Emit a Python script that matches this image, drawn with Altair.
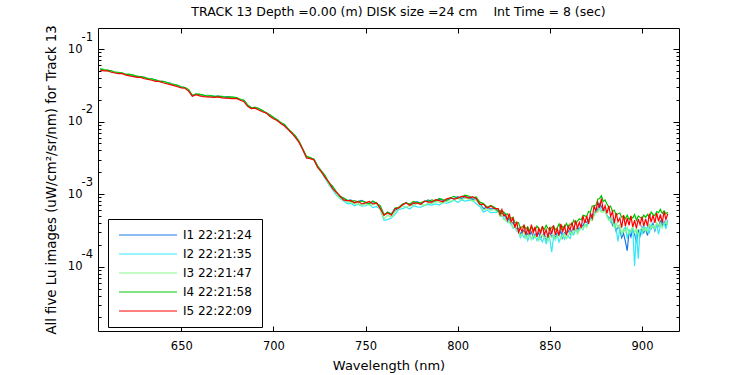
import altair as alt
import numpy as np
import pandas as pd

# Wavelength grid (nm): 2 nm sampling up to 820 nm, 1 nm sampling in the noisy tail
wavelength = np.concatenate([np.arange(606, 822, 2), np.arange(822, 915, 1)])

# Common spectrum shape, log10 of radiance
base_head = [
    -1.28, -1.29, -1.30, -1.31, -1.32, -1.33, -1.34, -1.35, -1.36, -1.37,
    -1.38, -1.39, -1.40, -1.41, -1.42, -1.435, -1.445, -1.455, -1.468, -1.48,
    -1.495, -1.51, -1.525, -1.54, -1.57, -1.65, -1.62, -1.635, -1.645, -1.648,
    -1.652, -1.655, -1.66, -1.663, -1.666, -1.67, -1.674, -1.68, -1.695, -1.715,
    -1.78, -1.82, -1.805, -1.83, -1.855, -1.88, -1.915, -1.95, -1.985, -2.015,
    -2.05, -2.10, -2.16, -2.21, -2.28, -2.39, -2.49, -2.50, -2.53, -2.62,
    -2.69, -2.76, -2.84, -2.91, -2.97, -3.03, -3.07, -3.09, -3.10, -3.11,
    -3.11, -3.115, -3.12, -3.12, -3.125, -3.13, -3.18, -3.29, -3.27, -3.28,
    -3.22, -3.18, -3.15, -3.14, -3.135, -3.13, -3.125, -3.12, -3.115, -3.11,
    -3.10, -3.095, -3.09, -3.085, -3.075, -3.07, -3.06, -3.055, -3.05, -3.045,
    -3.045, -3.055, -3.07, -3.12, -3.17, -3.18, -3.185, -3.20,
]
base_tail = [
    -3.23, -3.245, -3.26, -3.275, -3.29, -3.31, -3.33, -3.35, -3.37, -3.40,
    -3.43, -3.455, -3.48, -3.49, -3.50, -3.50, -3.50, -3.505, -3.51, -3.51,
    -3.51, -3.51, -3.51, -3.51, -3.51, -3.51, -3.51, -3.51, -3.51, -3.51,
    -3.51, -3.51, -3.505, -3.50, -3.50, -3.495, -3.49, -3.485, -3.48, -3.47,
    -3.46, -3.45, -3.44, -3.43, -3.42, -3.405, -3.39, -3.37, -3.35, -3.33,
    -3.31, -3.275, -3.24, -3.205, -3.17, -3.15, -3.15, -3.17, -3.19, -3.215,
    -3.24, -3.265, -3.29, -3.31, -3.33, -3.35, -3.37, -3.38, -3.39, -3.39,
    -3.39, -3.39, -3.39, -3.39, -3.39, -3.39, -3.39, -3.39, -3.39, -3.39,
    -3.38, -3.37, -3.36, -3.355, -3.35, -3.345, -3.34, -3.335, -3.33, -3.325,
    -3.32, -3.32, -3.32,
]

# Per-image deviations from the common shape (hundredths of a decade)
dev_i1 = [
    0, 1, 0, 1, 0, 0, 1, 0, 1, 0,
    1, 0, 1, 0, 1, 0, 0, 1, 0, 1,
    0, 1, 0, 1, 0, 1, 0, 1, 0, 1,
    1, 0, 1, 0, 1, 1, 0, 1, 0, 1,
    0, 1, 0, 1, 0, 0, 1, 0, 1, 0,
    1, 0, 0, 1, 0, 1, 0, 0, 1, 0,
    0, 1, -1, 2, 0, -1, 1, 0, 2, -1,
    1, 3, 0, -1, 2, 1, -2, 0, 2, 1,
    0, -2, 1, 2, -1, 0, 2, -1, 1, 3,
    -1, 1, 2, 0, -2, 1, 0, 2, -1, 1,
    0, -2, 1, -1, -3, 0, -2, 1,
    -2, 1, -4, 0, -3, -5, -1, -6, -2, -4,
    -5, -2, -7, -3, 0, -8, -4, -6, -1, -9,
    -4, -7, -2, -10, -5, -3, -12, -6, -2, -8,
    -5, -9, -3, -7, -1, -11, -4, -6, -2, -8,
    -4, -1, -6, -3, -7, -2, -5, 0, -4, -2,
    -3, 0, -5, -1, -4, 2, -2, -6, -3, -8,
    -10, -5, -14, -7, -18, -9, -12, -22, -15, -26,
    -39, -12, -20, -8, -16, -28, -10, -18, -6, -14,
    -9, -20, -7, -12, -5, -16, -8, -11, -4, -10,
    -6, -12, -5,
]
dev_i2 = [
    0, 0, 1, 0, 0, 0, 1, 0, 0, 0,
    0, 1, 0, 0, 0, 1, 0, 0, 0, 1,
    0, 0, 0, 1, 0, 0, 0, 0, 1, 0,
    0, 1, 0, 0, 0, 0, 1, 0, 0, 0,
    1, 0, 0, 0, 0, 1, 0, 0, 0, 0,
    0, 0, 0, -1, 0, 0, -1, 0, 0, -1,
    -1, -2, -3, -2, -4, -3, -2, -4, -3, -5,
    -3, -5, -4, -2, -6, -4, -3, -7, -8, -5,
    -6, -3, -5, -4, -7, -3, -5, -6, -4, -3,
    -5, -4, -6, -3, -5, -4, -2, -6, -3, -5,
    -4, -3, -6, -5, -8, -4, -7, -5,
    -2, -5, -1, -7, -4, -8, -3, -6, -10, -5,
    -8, -4, -12, -6, -10, -5, -14, -7, -9, -11,
    -6, -13, -8, -10, -15, -7, -18, -5, -11, -29,
    -8, -12, -6, -16, -9, -5, -13, -7, -10, -14,
    -6, -11, -4, -9, -7, -3, -10, -5, -8, -4,
    -2, -7, -4, -1, -6, -3, -8, -5, -2, -9,
    -7, -12, -5, -10, -16, -30, -8, -18, -11, -6,
    -22, -10, -14, -7, -60, -12, -50, -9, -16, -5,
    -12, -8, -18, -6, -11, -14, -7, -22, -10, -4,
    -8, -16, -3,
]
dev_i3 = [
    0, 1, 0, 0, 1, 0, 1, 0, 0, 1,
    1, 0, 0, 1, 0, 1, 0, 0, 1, 0,
    0, 1, 0, 0, 1, 0, 1, 0, 0, 1,
    1, 0, 0, 1, 0, 0, 1, 0, 1, 0,
    0, 1, 0, 0, 1, 0, 0, 1, 0, 1,
    0, 0, 1, 0, 1, 0, 0, 1, 0, 0,
    -1, 0, -2, 1, -1, -3, 0, -2, -1, -3,
    -2, -4, -1, -3, -2, 0, -3, -5, -2, -4,
    -2, -3, -1, -4, -2, -3, 0, -2, -4, -1,
    -3, -1, -2, -4, -1, -3, -2, 0, -3, -1,
    -2, -4, -1, -3, -5, -2, -4, -1,
    -3, -6, -2, -5, -8, -4, -7, -3, -9, -5,
    -7, -4, -10, -6, -3, -11, -8, -5, -12, -6,
    -9, -4, -13, -7, -5, -10, -8, -14, -6, -9,
    -5, -11, -7, -4, -12, -8, -6, -13, -9, -5,
    -10, -7, -4, -12, -8, -6, -9, -5, -11, -7,
    -4, -9, -6, -3, -8, -5, -10, -7, -4, -9,
    -12, -6, -10, -15, -7, -11, -5, -18, -9, -13,
    -7, -16, -10, -6, -14, -8, -18, -11, -7, -12,
    -9, -15, -6, -11, -8, -13, -5, -10, -7, -14,
    -9, -6, -11,
]
dev_i4 = [
    1, 0, 1, 1, 0, 1, 1, 0, 1, 1,
    0, 1, 1, 0, 1, 1, 0, 1, 1, 0,
    1, 1, 0, 1, 1, 1, 0, 1, 1, 0,
    1, 0, 1, 1, 0, 1, 1, 1, 0, 1,
    1, 1, 0, 1, 1, 0, 1, 1, 1, 0,
    1, 0, 1, 1, 0, 1, 1, 0, 1, 1,
    1, 2, 0, 2, 1, 0, 2, 1, 0, 2,
    0, 2, 1, -1, 3, 0, 2, 1, 2, 0,
    3, 0, 1, 2, 0, 3, 1, 0, 2, 1,
    2, 0, 3, 1, -1, 2, 3, 0, 1, 3,
    2, 0, 3, 1, 4, 0, 3, 2,
    0, 2, -1, 3, 1, 4, 0, 2, 5, 1,
    3, 6, 1, 4, 7, 2, 5, 0, 6, 3,
    1, 7, 3, 0, 6, 2, 8, 4, 1, 5,
    7, 2, 4, 9, 1, 5, 3, 8, 2, 6,
    4, 9, 3, 6, 8, 5, 10, 7, 4, 9,
    6, 11, 8, 5, 10, 9, 13, 7, 11, 8,
    6, 10, 5, 9, 4, 8, 11, 6, 9, 5,
    10, 4, 8, 6, 11, 3, 9, 7, 5, 10,
    6, 9, 4, 11, 7, 5, 10, 8, 12, 6,
    9, 5, 7,
]
dev_i5 = [
    -1, -1, 0, -1, -1, -1, 0, -1, -1, -1,
    -1, 0, -1, -1, -1, -1, 0, -1, -1, -1,
    -1, -1, -1, 0, -1, 0, -1, -1, -1, -1,
    -1, -1, 0, -1, -1, -1, -1, 0, -1, -1,
    -1, 0, -1, -1, -1, 0, -1, -1, 0, -1,
    -1, -1, 0, -1, -1, 0, -1, -1, 0, -1,
    0, -1, 1, -1, 0, 1, -1, 0, 1, -1,
    1, -2, 0, 2, -1, 1, -2, 0, 1, -1,
    2, -1, 0, 2, -2, 1, 0, -2, 2, 0,
    -1, 2, 0, -2, 1, 2, -1, 0, 2, 1,
    -1, 2, 1, -2, 3, -1, 2, 0,
    3, -4, 5, -2, 1, -5, 6, -3, 4, -6,
    5, -7, 2, -3, 8, -6, 3, -5, 9, -2,
    6, -8, 4, -3, 7, -5, 2, -9, 6, -4,
    8, -5, 3, -7, 9, -2, 5, -8, 4, -3,
    7, -5, 8, -4, 3, -6, 9, -3, 5, -8,
    4, -6, 8, -3, 6, -4, 9, -6, 3, -5,
    8, -4, 5, -9, 7, -3, 4, -8, 10, -5,
    6, -4, 9, -6, 3, -8, 5, -3, 8, -5,
    4, -7, 9, -3, 6, -5, 8, -4, 5, -7,
    8, -3, 5,
]

series_names = ["I1 22:21:24", "I2 22:21:35", "I3 22:21:47", "I4 22:21:58", "I5 22:22:09"]
series_colors = ["#1a78e0", "#30e8fa", "#88f788", "#00c400", "#ff0000"]
devs = [dev_i1, dev_i2, dev_i3, dev_i4, dev_i5]

x_ticks = [650, 700, 750, 800, 850, 900]
y_major = [1e-4, 1e-3, 1e-2, 1e-1]
y_all_ticks = [m * 10.0 ** e for e in range(-5, 0) for m in range(1, 10)]
y_all_ticks = [v for v in y_all_ticks if 1.3e-5 <= v <= 0.195]

base_arr = np.array(base_head + base_tail)
rows = []
for name, dev in zip(series_names, devs):
    n = min(len(base_arr), len(dev), len(wavelength))
    vals = 10.0 ** (base_arr[:n] + np.array(dev[:n]) / 100.0)
    for w, v in zip(wavelength[:n], vals):
        rows.append({"wl": float(w), "val": float(v), "series": name})
df = pd.DataFrame(rows)

W, H = 581, 303
FONT = "DejaVu Sans"

xs = alt.Scale(domain=[604.8, 920.1], nice=False, zero=False)
ys = alt.Scale(type="log", domain=[1.3e-5, 0.195], nice=False)

is_major = "abs(log(datum.value)/LN10 - round(log(datum.value)/LN10)) < 0.01"

lines = alt.Chart(df).mark_line(strokeWidth=1.2, clip=True).encode(
    x=alt.X("wl:Q", scale=xs, axis=alt.Axis(
        orient="bottom", values=x_ticks, tickSize=0, labelPadding=9, domain=False,
        grid=False, title="Wavelength (nm)", titlePadding=8, titleFontSize=13,
        labelFlush=False)),
    y=alt.Y("val:Q", scale=ys, axis=alt.Axis(
        orient="left", values=y_major, labelExpr="'10'", tickSize=0, labelPadding=16,
        domain=False, grid=False, labelBaseline="middle",
        title="All five Lu images (uW/cm\u00b2/sr/nm) for Track 13",
        titleX=-47, titleY=H / 2, titleAngle=-90, titleAlign="center",
        titleBaseline="middle", titleFontSize=13.3)),
    color=alt.Color("series:N", scale=alt.Scale(domain=series_names, range=series_colors),
                    legend=alt.Legend(
                        orient="none", legendX=10, legendY=191, title=None,
                        symbolType="M-1,0H10.6", symbolSize=100, symbolStrokeWidth=1,
                        labelFontSize=12, labelFont=FONT, labelColor="black",
                        strokeColor="black", fillColor="white", padding=10,
                        rowPadding=7, labelOffset=53)),
)

exponents = alt.Chart(df).mark_point(opacity=0).encode(
    y=alt.Y("val:Q", scale=ys, axis=alt.Axis(
        orient="left", values=y_major,
        labelExpr="'-' + round(-log(datum.value)/LN10)",
        labelAlign="left", labelPadding=17, labelOffset=-12, labelBaseline="middle",
        tickSize=0, domain=False, grid=False, title=None)),
)

tick_size_cond = {"condition": {"test": is_major, "value": 6}, "value": 3}

yticks_left = alt.Chart(df).mark_point(opacity=0).encode(
    y=alt.Y("val:Q", scale=ys, axis=alt.Axis(
        orient="right", offset=-W, values=y_all_ticks, tickSize=tick_size_cond,
        labels=False, domain=False, grid=False, title=None)),
)
yticks_right = alt.Chart(df).mark_point(opacity=0).encode(
    y=alt.Y("val:Q", scale=ys, axis=alt.Axis(
        orient="left", offset=-W, values=y_all_ticks, tickSize=tick_size_cond,
        labels=False, domain=False, grid=False, title=None)),
)
xticks_bottom = alt.Chart(df).mark_point(opacity=0).encode(
    x=alt.X("wl:Q", scale=xs, axis=alt.Axis(
        orient="top", offset=-H, values=x_ticks, tickSize=5,
        labels=False, domain=False, grid=False, title=None)),
)
xticks_top = alt.Chart(df).mark_point(opacity=0).encode(
    x=alt.X("wl:Q", scale=xs, axis=alt.Axis(
        orient="bottom", offset=-H, values=x_ticks, tickSize=5,
        labels=False, domain=False, grid=False, title=None)),
)

chart = alt.layer(
    lines, exponents, yticks_left, yticks_right, xticks_bottom, xticks_top
).resolve_axis(x="independent", y="independent").properties(
    width=W, height=H,
    title=alt.TitleParams(
        "TRACK 13 Depth =0.00 (m) DISK size =24 cm \u00a0\u00a0 Int Time = 8 (sec)",
        font=FONT, fontSize=12.5, fontWeight="normal", anchor="middle", offset=6, dx=10,
        color="black"),
    autosize=alt.AutoSizeParams(type="none"),
    padding={"left": 98, "top": 28, "right": 71, "bottom": 44},
    background="white",
).configure_view(
    stroke="black", strokeWidth=1
).configure_axis(
    labelFont=FONT, labelFontSize=11.5, labelColor="black",
    titleFont=FONT, titleFontSize=12.5, titleFontWeight="normal", titleColor="black",
    tickColor="black", tickWidth=1,
)

chart.save("out.html", embed_options={"renderer": "svg", "actions": False})
